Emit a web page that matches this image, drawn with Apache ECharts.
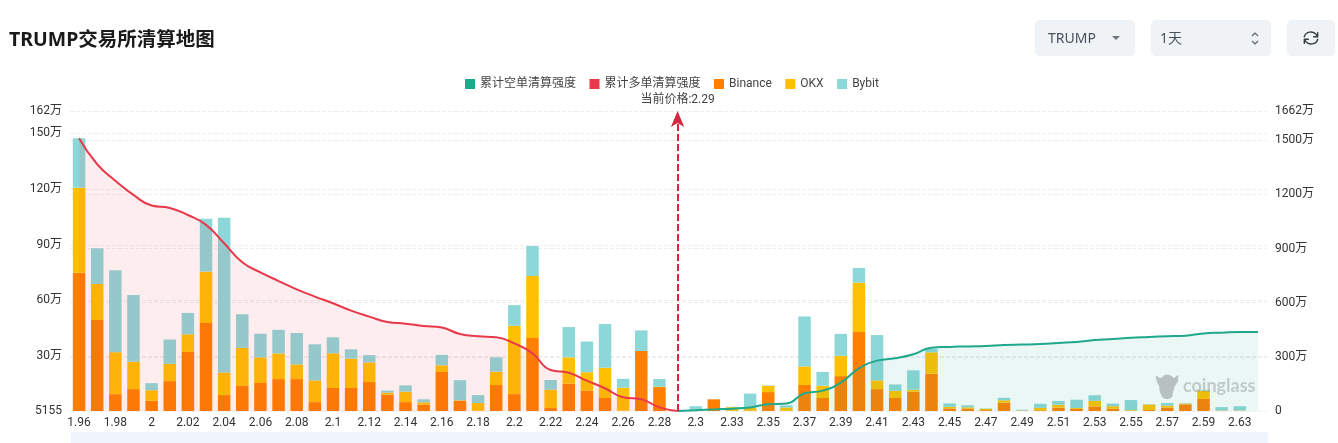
<!DOCTYPE html>
<html lang="zh-CN">
<head>
<meta charset="utf-8">
<title>TRUMP交易所清算地图</title>
<script src="https://cdn.jsdelivr.net/npm/echarts@6/dist/echarts.min.js"></script>
<style>
  html, body { margin: 0; padding: 0; background: #fff; }
  #chart { position: absolute; left: 0; top: 0; width: 1338px; height: 443px; }
  .ctl {
    position: absolute; top: 20px; height: 36px; box-sizing: border-box;
    background: #eff3f6; border-radius: 6px; box-shadow: 0 0 1px rgba(0,0,0,.1);
    font: 14px "Noto Sans", "Noto Sans CJK SC", sans-serif; color: #47515c;
    line-height: 36px;
  }
  .ctl span { position: absolute; top: 0; }
  .ctl svg { position: absolute; }
</style>
</head>
<body>
<div id="chart"></div>
<div class="ctl" style="left:1035px;width:100px">
  <span style="left:13px">TRUMP</span>
  <svg style="left:76px;top:15px" width="10" height="6"><path d="M1 1h8L5 5z" fill="#6b7480"/></svg>
</div>
<div class="ctl" style="left:1151px;width:120px">
  <span style="left:9px">1天</span>
  <svg style="left:98px;top:11px" width="12" height="15" fill="none" stroke="#5a6470" stroke-width="1.2"><path d="M3 5l3-3 3 3M3 10l3 3 3-3"/></svg>
</div>
<div class="ctl" style="left:1287px;width:48px">
  <svg style="left:16px;top:10px" width="16" height="16" viewBox="0 0 24 24" fill="none" stroke="#333c45" stroke-width="2.2" stroke-linecap="round" stroke-linejoin="round">
    <path d="M2 10a10 9 0 0 1 18-3l2 3M22 4v6h-6M22 14a10 9 0 0 1-18 3l-2-3M2 20v-6h6"/>
  </svg>
</div>
<script>
// Liquidation price levels (one bar per level)
const priceLevels = ['1.96','1.97','1.98','1.99','2','2.01','2.02','2.03','2.04','2.05','2.06','2.07','2.08','2.09','2.1','2.11','2.12','2.13','2.14','2.15','2.16','2.17','2.18','2.19','2.2','2.21','2.22','2.23','2.24','2.25','2.26','2.27','2.28','2.29','2.3','2.31','2.33','2.34','2.35','2.36','2.37','2.38','2.39','2.4','2.41','2.42','2.43','2.44','2.45','2.46','2.47','2.48','2.49','2.5','2.51','2.52','2.53','2.54','2.55','2.56','2.57','2.58','2.59','2.61','2.63','2.65'];

// Liquidation intensity per exchange, in units of 万
const binance = [75.0,49.5,9.6,12.3,6.1,16.6,32.3,47.9,9.1,14.0,15.6,17.7,17.7,5.3,12.9,12.9,16.1,9.3,5.3,3.9,21.5,6.1,0.7,14.5,9.6,39.8,2.1,15.2,11.4,7.5,0.7,32.8,13.4,0,0.6,6.8,0.6,0.6,10.7,0.6,14.5,7.5,19.3,43.0,12.3,7.5,10.9,20.6,1.9,1.8,1.0,5.0,0.6,0.9,2.3,1.6,3.0,1.8,0.6,1.0,2.3,4.1,7.0,0.6,0.6,0];
const okx = [45.7,19.4,22.6,14.7,5.6,9.3,9.5,27.6,12.2,20.5,13.8,13.8,7.9,11.7,18.7,15.8,10.6,1.1,5.6,1.3,3.6,0.2,4.1,7.2,36.8,33.4,9.9,14.2,10.0,16.3,12.4,0,0.2,0,0.2,0,2.0,1.8,3.4,1.8,10.0,6.6,10.9,26.6,4.7,3.9,1.1,11.5,0.9,0.7,0.7,1.3,0.2,1.3,1.6,0.5,3.0,1.3,0.4,3.0,1.1,0.4,4.5,0.2,0.2,0];
const bybit = [26.6,19.2,44.1,35.9,3.8,13.1,11.5,28.5,83.2,18.1,12.7,12.7,16.9,19.4,8.6,5.0,3.9,1.1,3.4,1.6,5.6,10.8,4.3,7.7,11.1,16.1,5.2,16.3,16.5,23.5,4.7,11.1,4.1,0,2.3,0,0.2,7.5,0.2,1.1,26.9,7.4,11.8,7.9,24.4,3.4,10.4,1.8,1.8,1.1,0.2,1.3,0.4,2.2,2.0,4.5,3.0,1.4,5.4,0.2,1.4,0.2,0.4,1.8,2.3,0];

// Cumulative intensity, in units of 万, on the right-hand axis
const cumulativeLong = [1511,1367,1276,1197,1138,1125,1086,1031,929,824,768,720,674,634,597,556,523,493,484,471,462,427,414,408,375,320,227,212,168,126,76,65,20,0,null,null,null,null,null,null,null,null,null,null,null,null,null,null,null,null,null,null,null,null,null,null,null,null,null,null,null,null,null,null,null,null];
const cumulativeShort = [null,null,null,null,null,null,null,null,null,null,null,null,null,null,null,null,null,null,null,null,null,null,null,null,null,null,null,null,null,null,null,null,null,0,4,9,13,20,37,41,98,113,157,236,279,292,314,351,355,358,360,366,368,371,377,382,393,399,406,410,414,417,430,434,438,438];

// Axis ticks, in units of 万
const leftTicks = [0.5155,30,60,90,120,150,162];
const rightTicks = [0,300,600,900,1200,1500,1662];
const currentPrice = '2.29';

const font = 'Roboto, "Noto Sans CJK SC", sans-serif';
const wan = v => (v === 0.5155 ? '5155' : v === 0 ? '0' : v + '万');

function barSeries(name, data, color) {
  return { name, type: 'bar', stack: 'exchange', yAxisIndex: 0, barWidth: 12.5, data, itemStyle: { color }, z: 2 };
}

function lineSeries(name, data, color, fill, extra) {
  return Object.assign({
    name, type: 'line', yAxisIndex: 1, data, smooth: true, showSymbol: false, z: 3,
    lineStyle: { color, width: 2 }, itemStyle: { color },
    areaStyle: { color: fill }
  }, extra);
}

const gridLine = { show: true, lineStyle: { color: '#eeeeee', type: 'dashed', width: 1 } };

function valueAxis(position, min, max, ticks) {
  return {
    type: 'value', position, min, max, interval: 300,
    axisLine: { show: false },
    axisTick: { show: false, customValues: ticks },
    splitLine: gridLine,
    axisLabel: {
      customValues: ticks, formatter: wan, margin: 8,
      color: '#333', fontSize: 12, fontFamily: font,
      showMinLabel: true, showMaxLabel: true, hideOverlap: false
    }
  };
}

const chart = echarts.init(document.getElementById('chart'), null, { renderer: 'canvas' });
chart.setOption({
  animation: false,
  backgroundColor: '#fff',
  title: {
    text: 'TRUMP交易所清算地图', left: 4, top: 26,
    textStyle: { fontSize: 19.5, fontWeight: 'bold', color: '#1a1a1a', fontFamily: '"Noto Sans", "Noto Sans CJK SC", sans-serif' }
  },
  legend: {
    left: 460, top: 73, itemWidth: 10, itemHeight: 10, itemGap: 13.5, icon: 'rect',
    itemStyle: { borderWidth: 0 },
    textStyle: { fontSize: 12, color: '#444', fontFamily: font },
    data: ['累计空单清算强度', '累计多单清算强度', 'Binance', 'OKX', 'Bybit']
  },
  grid: { left: 70, right: 71, top: 111, bottom: 32, containLabel: false },
  xAxis: {
    type: 'category', data: priceLevels,
    axisLine: { show: false }, axisTick: { show: false },
    axisLabel: { interval: 1, color: '#333', fontSize: 12, fontFamily: font, margin: 6, hideOverlap: false }
  },
  yAxis: [valueAxis('left', 0.5155, 162, leftTicks), valueAxis('right', 0, 1662, rightTicks)],
  series: [
    barSeries('Binance', binance, '#ff8000'),
    barSeries('OKX', okx, '#ffc000'),
    barSeries('Bybit', bybit, '#8cd7d7'),
    lineSeries('累计空单清算强度', cumulativeShort, '#1fa88c', 'rgba(31,168,140,0.13)'),
    lineSeries('累计多单清算强度', cumulativeLong, '#e8384a', 'rgba(232,56,74,0.13)', {
      markLine: {
        silent: true, symbol: ['none', 'arrow'], symbolSize: [10, 16], animation: false,
        lineStyle: { color: '#d8283f', type: [7, 3], width: 2 },
        label: { formatter: '当前价格:' + currentPrice, position: 'end', distance: 5, color: '#444', fontSize: 12, fontFamily: font },
        data: [{ xAxis: currentPrice }]
      }
    })
  ],
  graphic: [
    // Slider track under the axis
    { type: 'rect', silent: true, z: 0, shape: { x: 71, y: 432, width: 1197, height: 11 }, style: { fill: '#eff3fb' } },
    // Brand mark
    { type: 'polygon', silent: true, z: 10, shape: { smooth: 0.25, points: [[1156,376],[1161,378],[1165,375],[1170,375],[1174,378],[1178,375],[1178,381],[1175,386],[1173,392],[1172,397],[1168,399],[1163,398],[1160,392],[1159,386],[1157,382]] }, style: { fill: 'rgba(130,140,140,0.5)' } },
    { type: 'text', silent: true, z: 10, style: { x: 1183, y: 377, text: 'coinglass', fill: 'rgba(130,140,140,0.42)', font: 'bold 18px Lato, sans-serif' } }
  ]
});
</script>
</body>
</html>
